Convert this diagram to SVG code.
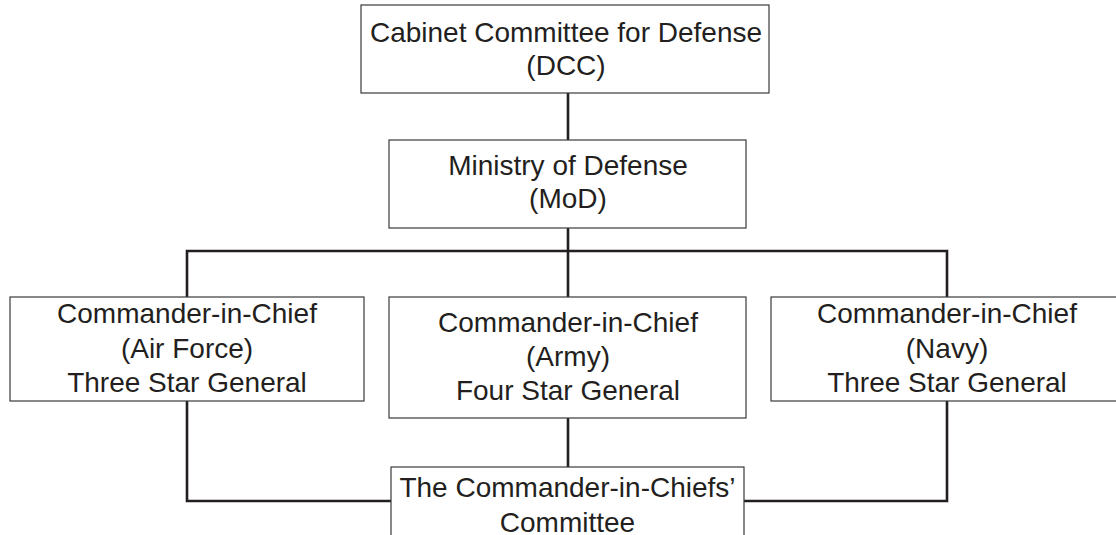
<svg xmlns="http://www.w3.org/2000/svg" width="1116" height="535" viewBox="0 0 1116 535">
<style>
.box{fill:#ffffff;stroke:#3a3a3a;stroke-width:1.2}
.t{font-family:"Liberation Sans",Arial,sans-serif;font-size:28px;fill:#231f20;text-anchor:middle}
.c{fill:none;stroke:#231f20;stroke-width:2.6;stroke-linejoin:miter}
</style>
<rect width="1116" height="535" fill="#ffffff"/>
<g id="connectors">
<line class="c" x1="568" y1="93" x2="568" y2="140"/>
<line class="c" x1="568" y1="228" x2="568" y2="297"/>
<polyline class="c" points="187,297 187,251 947,251 947,297"/>
<line class="c" x1="568" y1="418" x2="568" y2="467"/>
<polyline class="c" points="187,401 187,501 391,501"/>
<polyline class="c" points="947,401 947,501 744,501"/>
</g>
<g id="dcc">
<rect class="box" x="361" y="5" width="408" height="88"/>
<text class="t" x="566" y="42">Cabinet Committee for Defense</text>
<text class="t" x="566" y="75">(DCC)</text>
</g>
<g id="mod">
<rect class="box" x="389" y="140" width="357" height="88"/>
<text class="t" x="568" y="175">Ministry of Defense</text>
<text class="t" x="568" y="208">(MoD)</text>
</g>
<g id="airforce">
<rect class="box" x="10" y="297" width="354" height="104"/>
<text class="t" x="187" y="323">Commander-in-Chief</text>
<text class="t" x="187" y="358">(Air Force)</text>
<text class="t" x="187" y="392">Three Star General</text>
</g>
<g id="army">
<rect class="box" x="389" y="297" width="357" height="121"/>
<text class="t" x="568" y="332">Commander-in-Chief</text>
<text class="t" x="568" y="366">(Army)</text>
<text class="t" x="568" y="400">Four Star General</text>
</g>
<g id="navy">
<rect class="box" x="771" y="297" width="352" height="104"/>
<text class="t" x="947" y="323">Commander-in-Chief</text>
<text class="t" x="947" y="358">(Navy)</text>
<text class="t" x="947" y="392">Three Star General</text>
</g>
<g id="committee">
<rect class="box" x="391" y="467" width="353" height="90"/>
<text class="t" x="567.5" y="497">The Commander-in-Chiefs’</text>
<text class="t" x="567.5" y="532">Committee</text>
</g>
</svg>
